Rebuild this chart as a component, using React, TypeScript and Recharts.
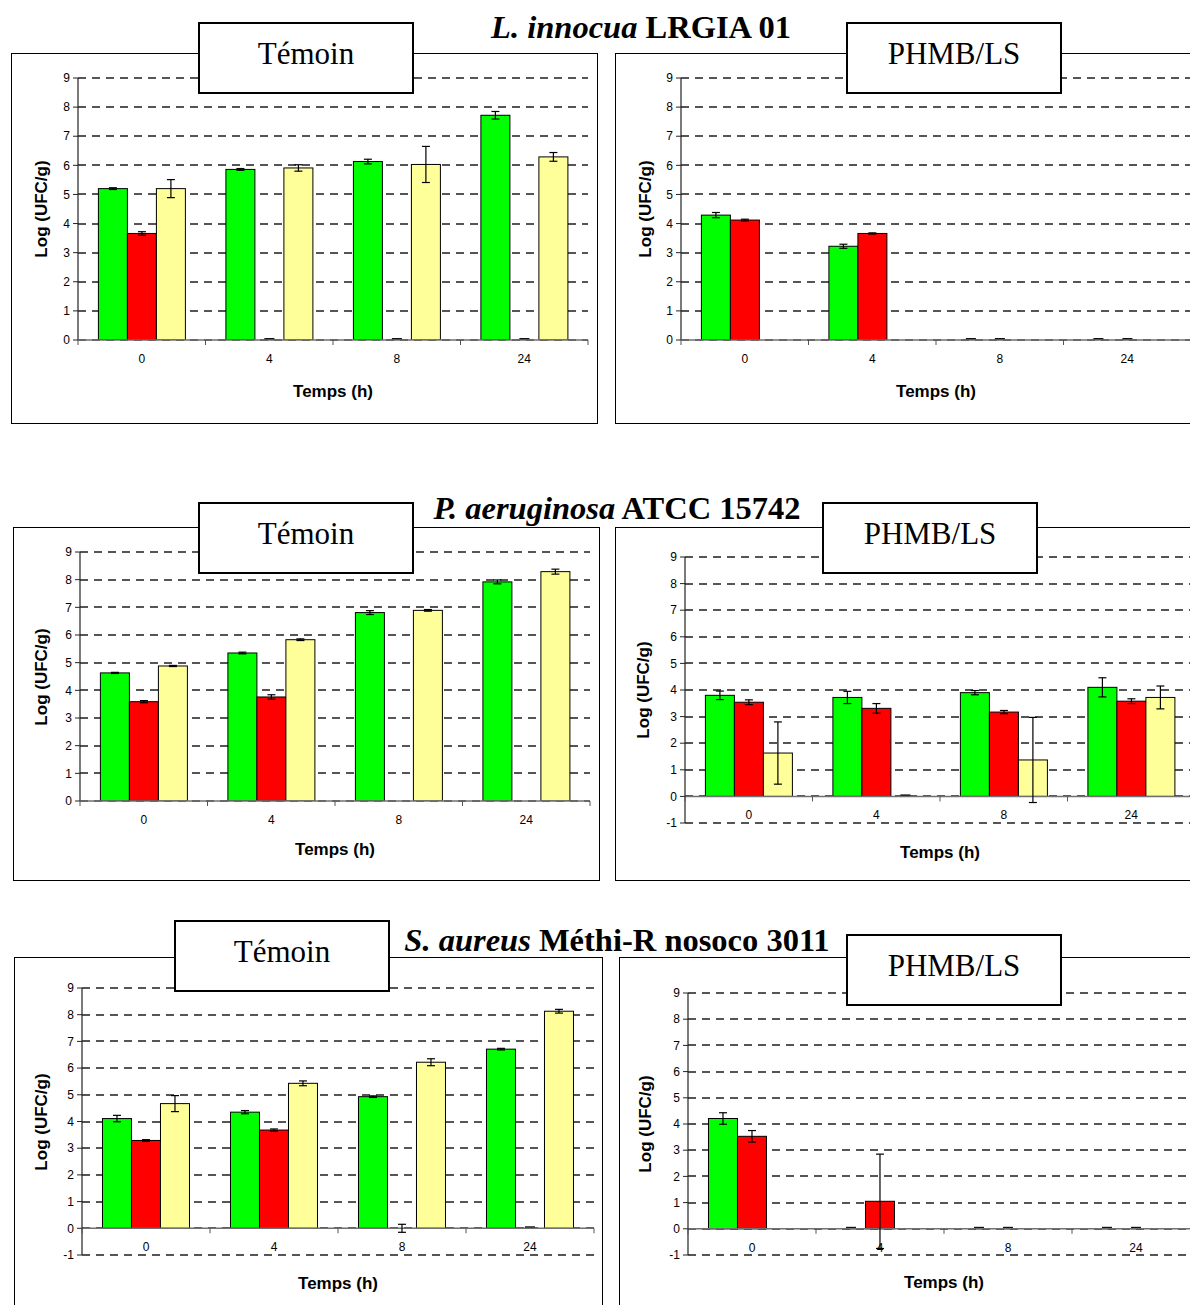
import React from 'react';
import { BarChart, Bar, XAxis, YAxis, CartesianGrid, ErrorBar, ReferenceLine } from 'recharts';

const categories = ['0', '4', '8', '24'];
const yTicksPos = [0, 1, 2, 3, 4, 5, 6, 7, 8, 9];
const yTicksNeg = [-1, 0, 1, 2, 3, 4, 5, 6, 7, 8, 9];

// L. innocua LRGIA 01 — Témoin
const liTemGreen = [5.2, 5.86, 6.13, 7.72];
const liTemGreenErr = [0.03, 0.03, 0.08, 0.13];
const liTemRed = [3.66, 0, 0, 0];
const liTemRedErr = [0.06, 0, 0, 0];
const liTemYellow = [5.2, 5.91, 6.03, 6.29];
const liTemYellowErr = [0.31, 0.11, 0.62, 0.15];

// L. innocua LRGIA 01 — PHMB/LS
const liPhGreen = [4.29, 3.22, 0, 0];
const liPhGreenErr = [0.09, 0.07, 0, 0];
const liPhRed = [4.12, 3.66, 0, 0];
const liPhRedErr = [0.03, 0.02, 0, 0];
const liPhYellow = [0, 0, 0, 0];
const liPhYellowErr = [null, null, null, null];

// P. aeruginosa ATCC 15742 — Témoin
const paTemGreen = [4.63, 5.35, 6.81, 7.92];
const paTemGreenErr = [0.02, 0.03, 0.07, 0.07];
const paTemRed = [3.59, 3.76, 0, 0];
const paTemRedErr = [0.04, 0.08, null, null];
const paTemYellow = [4.88, 5.83, 6.89, 8.29];
const paTemYellowErr = [0.02, 0.03, 0.03, 0.09];

// P. aeruginosa ATCC 15742 — PHMB/LS
const paPhGreen = [3.8, 3.72, 3.9, 4.1];
const paPhGreenErr = [0.16, 0.23, 0.08, 0.36];
const paPhRed = [3.54, 3.31, 3.17, 3.58];
const paPhRedErr = [0.09, 0.18, 0.06, 0.09];
const paPhYellow = [1.63, 0, 1.37, 3.72];
const paPhYellowErr = [1.17, 0, 1.6, 0.43];

// S. aureus Méthi-R nosoco 3011 — Témoin
const saTemGreen = [4.11, 4.35, 4.93, 6.71];
const saTemGreenErr = [0.12, 0.06, 0.03, 0.03];
const saTemRed = [3.29, 3.68, 0, 0];
const saTemRedErr = [0.03, 0.04, 0.15, 0];
const saTemYellow = [4.67, 5.43, 6.22, 8.13];
const saTemYellowErr = [0.3, 0.09, 0.13, 0.07];

// S. aureus Méthi-R nosoco 3011 — PHMB/LS
const saPhGreen = [4.21, 0, 0, 0];
const saPhGreenErr = [0.22, 0, 0, 0];
const saPhRed = [3.53, 1.05, 0, 0];
const saPhRedErr = [0.22, 1.8, 0, 0];
const saPhYellow = [0, 0, 0, 0];
const saPhYellowErr = [null, null, null, null];

const build = (g, gE, r, rE, y, yE) =>
  categories.map((t, i) => ({ t, g: g[i], gE: gE[i], r: r[i], rE: rE[i], y: y[i], yE: yE[i] }));

const SANS = '"Liberation Sans", Arial, sans-serif';
const SERIF = '"Liberation Serif", "Times New Roman", serif';

const makeShape = (errKey: string) => (props: any) => {
  const { x, y, width, height, fill, payload } = props;
  const h = Math.abs(height || 0);
  if (h < 0.01) {
    if (payload && payload[errKey] === 0) {
      const cx = x + width / 2;
      return <rect x={cx - 5} y={y - 2} width={10} height={2.5} fill="#111" />;
    }
    return <g />;
  }
  return <rect x={x} y={Math.min(y, y + height)} width={width} height={h} fill={fill} stroke="#000" strokeWidth={1} />;
};

const XTick = (p: any) => {
  const { x, y, payload, index, zeroShift, half } = p;
  const hb = payload && typeof payload.offset === 'number' && payload.offset > 0 ? payload.offset : half;
  const y0 = y - zeroShift;
  const last = index === categories.length - 1;
  return (
    <g>
      <line x1={x - hb} x2={x - hb} y1={y0} y2={y0 + 5} stroke="#555" />
      {last && <line x1={x + hb} x2={x + hb} y1={y0} y2={y0 + 5} stroke="#555" />}
      <text x={x} y={y0 + 19} textAnchor="middle" dominantBaseline="central" fontSize={12} fontFamily={SANS} fill="#000">
        {payload.value}
      </text>
    </g>
  );
};

type Cfg = {
  fx: number; fy: number; fw: number; fh: number;
  px0: number; px1: number; pyTop: number; pyBot: number;
  ymin: number; ymax: number; ticks: number[];
  tempsY: number; logX: number; data: any[];
};

function Panel({ cfg }: { cfg: Cfg }) {
  const { fx, fy, fw, fh, px0, px1, pyTop, pyBot, ymin, ymax, ticks, tempsY, logX, data } = cfg;
  const yAxisW = px0 - fx;
  const mTop = pyTop - fy;
  const mRight = fx + fw - px1;
  const xAxisH = 20;
  const mBottom = fy + fh - pyBot - xAxisH;
  const plotH = pyBot - pyTop;
  const zeroShift = ymin < 0 ? (plotH * (0 - ymin)) / (ymax - ymin) : 0;
  const half = (px1 - px0) / categories.length / 2;
  return (
    <>
      <div style={{ position: 'absolute', left: fx, top: fy, width: fw, height: fh, border: '1px solid #000', boxSizing: 'border-box' }} />
      <div style={{ position: 'absolute', left: fx, top: fy }}>
        <BarChart width={fw} height={fh} data={data} margin={{ top: mTop, right: mRight, bottom: mBottom, left: 0 }} barCategoryGap="16%" barGap={0}>
          <CartesianGrid vertical={false} stroke="#555" strokeWidth={2} strokeDasharray="8 6" shapeRendering="crispEdges" />
          <YAxis
            type="number"
            domain={[ymin, ymax]}
            ticks={ticks}
            interval={0}
            width={yAxisW}
            allowDataOverflow
            axisLine={{ stroke: '#222', strokeWidth: 1.2 }}
            tickLine={{ stroke: '#222' }}
            tickSize={5}
            tickMargin={3}
            tick={{ fill: '#000', fontSize: 12, fontFamily: SANS }}
          />
          <XAxis
            dataKey="t"
            height={xAxisH}
            interval={0}
            axisLine={ymin < 0 ? false : { stroke: '#707070', strokeWidth: 1.5 }}
            tickLine={false}
            tickSize={0}
            tickMargin={0}
            tick={(p: any) => <XTick {...p} zeroShift={zeroShift} half={half} />}
          />
          {ymin < 0 && <ReferenceLine y={0} stroke="#707070" strokeWidth={1.5} />}
          <Bar dataKey="g" fill="#00FF00" shape={makeShape('gE')} isAnimationActive={false}>
            <ErrorBar dataKey="gE" width={4} stroke="#000" strokeWidth={1.2} direction="y" />
          </Bar>
          <Bar dataKey="r" fill="#FF0000" shape={makeShape('rE')} isAnimationActive={false}>
            <ErrorBar dataKey="rE" width={4} stroke="#000" strokeWidth={1.2} direction="y" />
          </Bar>
          <Bar dataKey="y" fill="#FFFF99" shape={makeShape('yE')} isAnimationActive={false}>
            <ErrorBar dataKey="yE" width={4} stroke="#000" strokeWidth={1.2} direction="y" />
          </Bar>
        </BarChart>
      </div>
      <div
        style={{
          position: 'absolute', left: logX, top: (pyTop + pyBot) / 2,
          transform: 'translate(-50%, -50%) rotate(-90deg)', whiteSpace: 'nowrap',
          fontFamily: SANS, fontWeight: 'bold', fontSize: 17, lineHeight: '20px', color: '#000',
        }}
      >
        Log (UFC/g)
      </div>
      <div
        style={{
          position: 'absolute', left: (px0 + px1) / 2, top: tempsY,
          transform: 'translate(-50%, -50%)', whiteSpace: 'nowrap',
          fontFamily: SANS, fontWeight: 'bold', fontSize: 17, lineHeight: '20px', color: '#000',
        }}
      >
        Temps (h)
      </div>
    </>
  );
}

const LabelBox = ({ x, y, text }: { x: number; y: number; text: string }) => (
  <div
    style={{
      position: 'absolute', left: x, top: y, width: 216, height: 72, boxSizing: 'border-box',
      border: '2px solid #000', background: '#fff', fontFamily: SERIF, fontSize: 31,
      textAlign: 'center', lineHeight: '60px', color: '#000',
    }}
  >
    {text}
  </div>
);

const Title = ({ cx, cy, italic, rest }: { cx: number; cy: number; italic: string; rest: string }) => (
  <div
    style={{
      position: 'absolute', left: cx - 300, top: cy - 18, width: 600, textAlign: 'center',
      fontFamily: SERIF, fontWeight: 'bold', fontSize: 32.5, lineHeight: '36px', color: '#000', whiteSpace: 'nowrap',
    }}
  >
    <span style={{ fontStyle: 'italic' }}>{italic}</span> {rest}
  </div>
);

const panels: Cfg[] = [
  { fx: 11, fy: 53, fw: 587, fh: 371, px0: 78, px1: 588, pyTop: 78, pyBot: 340, ymin: 0, ymax: 9, ticks: yTicksPos, tempsY: 392, logX: 42,
    data: build(liTemGreen, liTemGreenErr, liTemRed, liTemRedErr, liTemYellow, liTemYellowErr) },
  { fx: 615, fy: 53, fw: 600, fh: 371, px0: 681, px1: 1191, pyTop: 78, pyBot: 340, ymin: 0, ymax: 9, ticks: yTicksPos, tempsY: 392, logX: 646,
    data: build(liPhGreen, liPhGreenErr, liPhRed, liPhRedErr, liPhYellow, liPhYellowErr) },
  { fx: 13, fy: 527, fw: 587, fh: 354, px0: 80, px1: 590, pyTop: 552, pyBot: 801, ymin: 0, ymax: 9, ticks: yTicksPos, tempsY: 850, logX: 42,
    data: build(paTemGreen, paTemGreenErr, paTemRed, paTemRedErr, paTemYellow, paTemYellowErr) },
  { fx: 615, fy: 527, fw: 600, fh: 354, px0: 685, px1: 1195, pyTop: 557, pyBot: 823, ymin: -1, ymax: 9, ticks: yTicksNeg, tempsY: 853, logX: 644,
    data: build(paPhGreen, paPhGreenErr, paPhRed, paPhRedErr, paPhYellow, paPhYellowErr) },
  { fx: 14, fy: 957, fw: 589, fh: 370, px0: 82, px1: 594, pyTop: 988, pyBot: 1255, ymin: -1, ymax: 9, ticks: yTicksNeg, tempsY: 1284, logX: 42,
    data: build(saTemGreen, saTemGreenErr, saTemRed, saTemRedErr, saTemYellow, saTemYellowErr) },
  { fx: 619, fy: 957, fw: 600, fh: 370, px0: 688, px1: 1200, pyTop: 993, pyBot: 1255, ymin: -1, ymax: 9, ticks: yTicksNeg, tempsY: 1283, logX: 646,
    data: build(saPhGreen, saPhGreenErr, saPhRed, saPhRedErr, saPhYellow, saPhYellowErr) },
];

export default function App() {
  return (
    <div style={{ position: 'absolute', left: 0, top: 0, width: 1190, height: 1305, overflow: 'hidden', background: '#fff' }}>
      {panels.map((c, i) => (
        <Panel key={i} cfg={c} />
      ))}
      <LabelBox x={198} y={22} text="Témoin" />
      <LabelBox x={846} y={22} text="PHMB/LS" />
      <LabelBox x={198} y={502} text="Témoin" />
      <LabelBox x={822} y={502} text="PHMB/LS" />
      <LabelBox x={174} y={920} text="Témoin" />
      <LabelBox x={846} y={934} text="PHMB/LS" />
      <Title cx={641} cy={27} italic="L. innocua" rest="LRGIA 01" />
      <Title cx={617} cy={508} italic="P. aeruginosa" rest="ATCC 15742" />
      <Title cx={617} cy={940} italic="S. aureus" rest="Méthi-R nosoco 3011" />
    </div>
  );
}
